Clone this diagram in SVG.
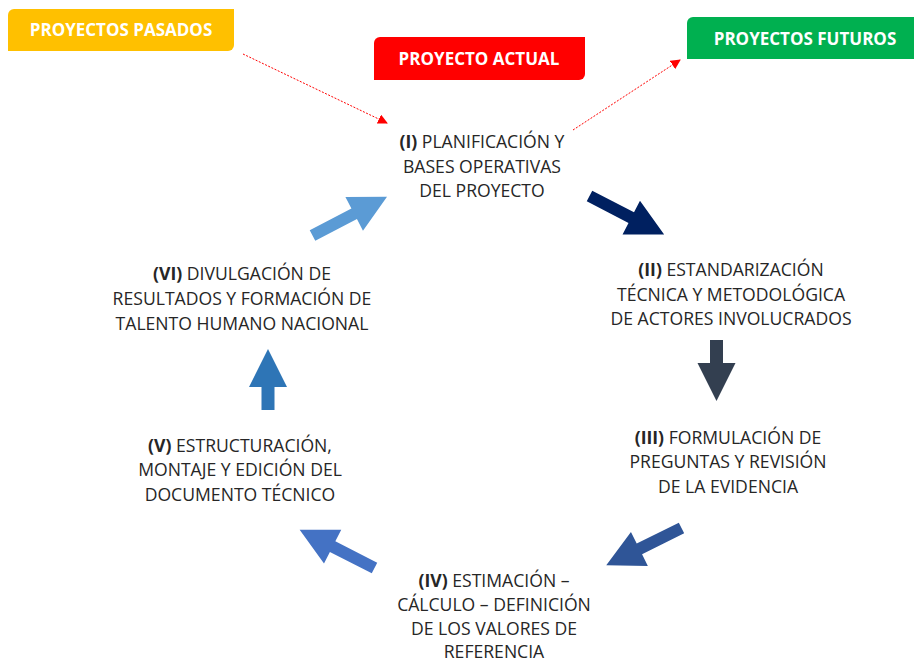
<svg xmlns="http://www.w3.org/2000/svg" xmlns:xlink="http://www.w3.org/1999/xlink" width="914" height="663" viewBox="0 0 914 663">
<style>
.lbl{font-family:"Open Sans","Liberation Sans",sans-serif;font-size:17px;font-weight:bold;fill:#fff;text-anchor:middle}
.txt{font-family:"Open Sans","Liberation Sans",sans-serif;font-size:17.6px;fill:#262626;text-anchor:middle}
.b{font-weight:bold}
.dash{stroke:#FF0000;stroke-width:1;stroke-dasharray:2,1.5;fill:none}
</style>
<defs>
<path id="diag" d="M0,-6 H47 V-19 L84,0 L47,19 V6 H0 Z"/>
<path id="vert" d="M0,-6.5 H23 V-19 L61,0 L23,19 V6.5 H0 Z"/>
<marker id="ah" viewBox="0 0 10 10" refX="9" refY="5" markerWidth="10" markerHeight="10" markerUnits="userSpaceOnUse" orient="auto">
<path d="M0,0 L10,5 L0,10 Z" fill="#FF0000"/>
</marker>
</defs>
<rect width="914" height="663" fill="#fff"/>
<g id="pasados">
<path d="M14,9 H234 V45 A6,6 0 0 1 228,51 H8 V15 A6,6 0 0 1 14,9 Z" fill="#FFC000"/>
<text class="lbl" x="121" y="36">PROYECTOS PASADOS</text>
</g>
<g id="actual">
<path d="M380,37 H585 V74 A6,6 0 0 1 579,80 H374 V43 A6,6 0 0 1 380,37 Z" fill="#FF0000"/>
<text class="lbl" x="479" y="65">PROYECTO ACTUAL</text>
</g>
<g id="futuros">
<path d="M693,17 H914 V59 H687 V23 A6,6 0 0 1 693,17 Z" fill="#00B050"/>
<text class="lbl" x="805" y="45">PROYECTOS FUTUROS</text>
</g>
<g id="connectors">
<line class="dash" x1="243" y1="54" x2="387" y2="123" marker-end="url(#ah)"/>
<line class="dash" x1="573" y1="130" x2="680" y2="60" marker-end="url(#ah)"/>
<use href="#diag" transform="translate(312.5,235.5) rotate(-27.5)" fill="#5B9BD5"/>
<use href="#diag" transform="translate(589.5,196) rotate(27.3)" fill="#002060"/>
<use href="#vert" transform="translate(716.5,340) rotate(90)" fill="#333F50"/>
<use href="#diag" transform="translate(681.5,528) rotate(153.6)" fill="#2F5597"/>
<use href="#diag" transform="translate(374.5,568) rotate(207)" fill="#4472C4"/>
<use href="#vert" transform="translate(268,410) rotate(-90)" fill="#2E75B6"/>
</g>
<g id="n1">
<text class="txt" x="482" y="148"><tspan class="b">(I)</tspan> PLANIFICACIÓN Y</text>
<text class="txt" x="482" y="173">BASES OPERATIVAS</text>
<text class="txt" x="482" y="197">DEL PROYECTO</text>
</g>
<g id="n2">
<text class="txt" x="731" y="276"><tspan class="b">(II)</tspan> ESTANDARIZACIÓN</text>
<text class="txt" x="731" y="301">TÉCNICA Y METODOLÓGICA</text>
<text class="txt" x="731" y="325">DE ACTORES INVOLUCRADOS</text>
</g>
<g id="n3">
<text class="txt" x="728" y="444"><tspan class="b">(III)</tspan> FORMULACIÓN DE</text>
<text class="txt" x="728" y="468">PREGUNTAS Y REVISIÓN</text>
<text class="txt" x="728" y="493">DE LA EVIDENCIA</text>
</g>
<g id="n4">
<text class="txt" x="494" y="587"><tspan class="b">(IV)</tspan> ESTIMACIÓN –</text>
<text class="txt" x="494" y="611">CÁLCULO – DEFINICIÓN</text>
<text class="txt" x="494" y="635">DE LOS VALORES DE</text>
<text class="txt" x="494" y="658">REFERENCIA</text>
</g>
<g id="n5">
<text class="txt" x="240" y="452"><tspan class="b">(V)</tspan> ESTRUCTURACIÓN,</text>
<text class="txt" x="240" y="476">MONTAJE Y EDICIÓN DEL</text>
<text class="txt" x="240" y="501">DOCUMENTO TÉCNICO</text>
</g>
<g id="n6">
<text class="txt" x="242" y="280"><tspan class="b">(VI)</tspan> DIVULGACIÓN DE</text>
<text class="txt" x="242" y="305">RESULTADOS Y FORMACIÓN DE</text>
<text class="txt" x="242" y="330">TALENTO HUMANO NACIONAL</text>
</g>
</svg>
